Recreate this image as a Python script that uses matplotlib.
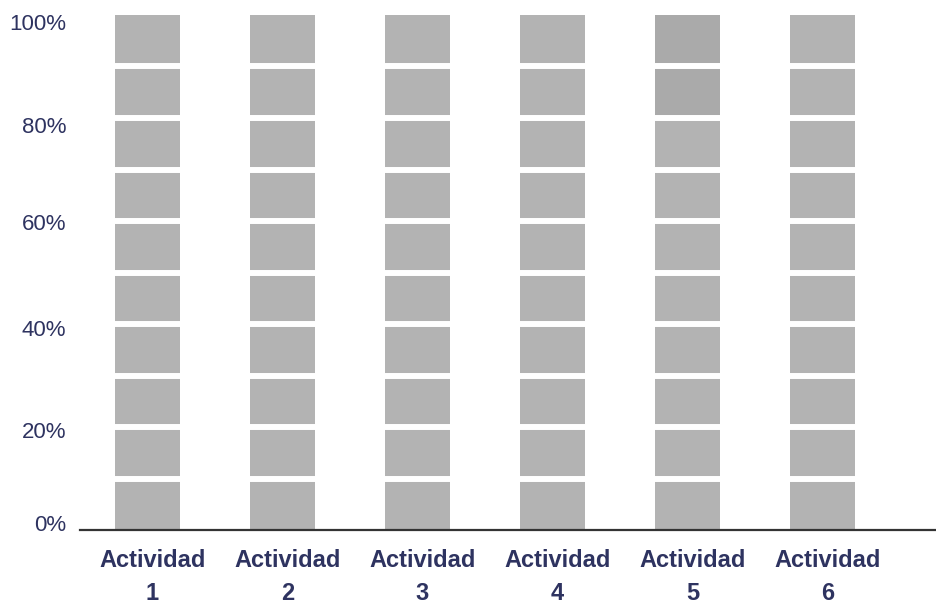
import matplotlib.pyplot as plt
from matplotlib.transforms import ScaledTranslation

# Actividades y porcentaje por tramo (10 tramos de 10% en cada barra)
actividades = ["Actividad\n1", "Actividad\n2", "Actividad\n3",
               "Actividad\n4", "Actividad\n5", "Actividad\n6"]
tramos = [10] * 10
gris = "#b3b3b3"
gris_oscuro = "#aaaaaa"
ticks_y = [0, 20, 40, 60, 80, 100]
etiquetas_y = ["0%", "20%", "40%", "60%", "80%", "100%"]

texto = "#2e3360"
plt.rcParams["font.family"] = ["Liberation Sans", "DejaVu Sans"]

fig = plt.figure(figsize=(9.36, 6.07), dpi=100)
ax = fig.add_axes([80 / 936, 77 / 607, 1 - 80 / 936, 515 / 607])

x = list(range(len(actividades)))
cortes = []
for i in x:
    base = 0
    for k, t in enumerate(tramos):
        # los dos tramos superiores de la actividad 5 van algo más oscuros
        c = gris_oscuro if (i == 4 and k >= 8) else gris
        ax.bar(i, t, bottom=base, width=0.48, color=c, linewidth=0, zorder=2)
        base += t
        if i == 0 and k < len(tramos) - 1:
            cortes.append(base)

# separación blanca entre tramos
ax.hlines(cortes, -0.5, 5.84, colors="white", linewidth=4.3, zorder=2.5)

ax.set_xlim(-0.5, 5.84)
ax.set_ylim(0, 100)

for s in ["top", "right", "left"]:
    ax.spines[s].set_visible(False)
ax.spines["bottom"].set_color("#333333")
ax.spines["bottom"].set_linewidth(1.6)
ax.spines["bottom"].set_zorder(3)

ax.set_xticks(x)
ax.set_xticklabels(actividades, fontsize=17, fontweight="bold", color=texto,
                   linespacing=1.55)
ax.tick_params(axis="x", length=0, pad=14)
for lab in ax.get_xticklabels():
    lab.set_transform(lab.get_transform() + ScaledTranslation(5 / 100, 0, fig.dpi_scale_trans))

ax.set_yticks(ticks_y)
ax.set_yticklabels(etiquetas_y, fontsize=16, color=texto)
ax.tick_params(axis="y", length=0, pad=10)
# pequeños desplazamientos verticales de las etiquetas del eje y (px)
desp = [7, -3, -4, -1, -7, -7]
for lab, d in zip(ax.get_yticklabels(), desp):
    lab.set_transform(lab.get_transform() + ScaledTranslation(0, d / 100, fig.dpi_scale_trans))

fig.savefig("out.png", dpi=100)
